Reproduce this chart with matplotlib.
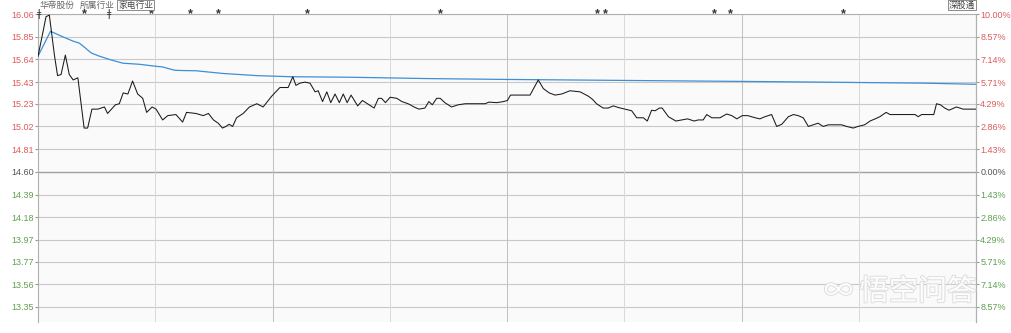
import matplotlib

matplotlib.use("Agg")

import matplotlib.pyplot as plt  # noqa: E402
import matplotlib.patheffects as pe  # noqa: E402

plt.rcParams["font.family"] = ["Liberation Sans", "Noto Sans CJK SC", "DejaVu Sans"]

PREV_CLOSE = 14.60
PRICE_TICKS = [16.06, 15.85, 15.64, 15.43, 15.23, 15.02, 14.81, 14.60,
               14.39, 14.18, 13.97, 13.77, 13.56, 13.35]
PCT_LABELS = ["10.00%", "8.57%", "7.14%", "5.71%", "4.29%", "2.86%", "1.43%", "0.00%",
              "1.43%", "2.86%", "4.29%", "5.71%", "7.14%", "8.57%"]

# intraday price (minute since open, price)
price_min = [0, 1.2, 2.05, 2.9, 4.2, 5.0, 5.9, 7.0, 8.0, 9.0, 10.2, 11.8, 12.7, 13.8,
             15.3, 17.0, 17.8, 19.8, 20.8, 21.8, 23.0, 24.2, 25.5, 26.8, 27.8, 29.2,
             30.2, 31.9, 33.2, 35.3, 37.0, 38.0, 40.4, 42.3, 43.6, 44.9, 46.1, 47.2,
             48.1, 48.9, 49.8, 50.8, 52.5, 54.1, 56.0, 57.6, 59.8, 61.9, 64.0, 65.2,
             66.0, 67.0, 68.3, 69.6, 70.9, 71.7, 72.8, 73.9, 74.9, 76.0, 77.1, 78.1,
             79.1, 80.1, 81.8, 83.0, 84.7, 86.0, 87.1, 87.9, 88.9, 90.1, 91.8, 93.1,
             94.7, 96.5, 97.5, 99.0, 100.0, 100.9, 102.0, 102.9, 104.1, 105.8, 107.5,
             109.3, 112.2, 114.4, 115.4, 117.4, 119.1, 120.1, 120.9, 123.3, 125.9,
             128.0, 129.3, 130.8, 132.3, 134.0, 136.1, 138.7, 140.8, 141.9, 142.9,
             144.6, 145.9, 147.2, 148.5, 150.2, 151.9, 153.2, 154.9, 155.9, 157.0,
             157.9, 159.0, 159.7, 161.3, 163.2, 164.7, 166.2, 167.9, 168.9, 170.2,
             171.1, 172.4, 174.5, 176.2, 177.5, 178.8, 180.2, 181.6, 183.5, 184.7,
             186.0, 187.7, 189.0, 190.3, 192.0, 193.3, 194.5, 195.8, 197.1, 199.6,
             200.9, 202.2, 205.6, 206.9, 208.6, 209.8, 211.5, 212.9, 214.2, 215.4,
             217.0, 218.0, 224.4, 225.2, 226.1, 229.2, 229.9, 230.9, 232.0, 233.1,
             235.0, 236.7, 240.0]
price = [15.67, 15.88, 16.035, 16.05, 15.68, 15.49, 15.50, 15.68, 15.50, 15.45, 15.47,
         15.005, 15.005, 15.18, 15.18, 15.20, 15.14, 15.22, 15.23, 15.33, 15.32, 15.44,
         15.32, 15.28, 15.15, 15.20, 15.18, 15.08, 15.12, 15.13, 15.06, 15.15, 15.14,
         15.12, 15.14, 15.08, 15.05, 15.005, 15.02, 15.04, 15.02, 15.10, 15.14, 15.20,
         15.23, 15.20, 15.30, 15.38, 15.38, 15.48, 15.40, 15.42, 15.43, 15.42, 15.34,
         15.35, 15.25, 15.34, 15.24, 15.32, 15.24, 15.32, 15.24, 15.31, 15.21, 15.26,
         15.22, 15.19, 15.28, 15.28, 15.24, 15.29, 15.28, 15.25, 15.23, 15.195, 15.18,
         15.19, 15.25, 15.22, 15.28, 15.28, 15.24, 15.20, 15.22, 15.23, 15.23, 15.23,
         15.245, 15.24, 15.25, 15.26, 15.31, 15.31, 15.31, 15.45, 15.37, 15.33, 15.31,
         15.32, 15.35, 15.34, 15.30, 15.27, 15.23, 15.19, 15.19, 15.21, 15.195, 15.18,
         15.165, 15.10, 15.10, 15.07, 15.17, 15.165, 15.19, 15.19, 15.11, 15.07, 15.08,
         15.09, 15.07, 15.08, 15.08, 15.13, 15.10, 15.10, 15.135, 15.12, 15.09, 15.12,
         15.12, 15.10, 15.09, 15.11, 15.13, 15.02, 15.04, 15.11, 15.13, 15.12, 15.10,
         15.02, 15.05, 15.02, 15.035, 15.035, 15.02, 15.005, 15.02, 15.035, 15.07,
         15.09, 15.11, 15.15, 15.13, 15.13, 15.11, 15.13, 15.13, 15.23, 15.22, 15.19,
         15.17, 15.20, 15.18, 15.18]

# running average price
avg_min = [0, 3.2, 6.3, 8.9, 10.6, 12.3, 13.6, 15.7, 18.7, 21.7, 25.9, 29.3, 31.9,
           34.9, 37.0, 40.4, 47.3, 51.7, 56.0, 64.5, 79.8, 88.0, 99.0, 119.0, 142.0,
           168.0, 185.0, 200.0, 227.0, 240.0]
avg_price = [15.67, 15.90, 15.85, 15.81, 15.79, 15.74, 15.70, 15.67, 15.635, 15.605,
             15.595, 15.58, 15.57, 15.54, 15.537, 15.535, 15.51, 15.50, 15.49, 15.48,
             15.475, 15.47, 15.463, 15.455, 15.448, 15.44, 15.435, 15.43, 15.42, 15.41]

# event markers along the top edge
star_min = [11.8, 28.9, 39.1, 46.1, 68.8, 102.9, 143.0, 145.1, 173.0, 177.1, 206.0]
bar_min = [0.0, 17.9]

RED = "#e05a5a"
GREEN = "#5fa04e"
GREY = "#555555"

fig = plt.figure(figsize=(10.11, 3.33), dpi=100)
ax = fig.add_axes([38 / 1011, 1 - 322 / 333, 938 / 1011, 308 / 333])
ax.set_facecolor("#fafafa")

ax.set_xlim(0, 240)
ax.set_ylim(13.211, 16.06)

for p in PRICE_TICKS:
    if p == PREV_CLOSE:
        ax.axhline(p, color="#a0a0a0", lw=1.0, zorder=1)
    else:
        ax.axhline(p, color="#c8c8c8", lw=0.8, zorder=1)
for m in range(30, 240, 30):
    ax.axvline(m, color="#c0c0c0" if m % 60 == 0 else "#d8d8d8", lw=0.7, zorder=1)

ax.plot(avg_min, avg_price, color="#3d8fd6", lw=0.9, zorder=3)
ax.plot(price_min, price, color="#1a1a1a", lw=0.75, zorder=4)

for m in star_min:
    ax.text(m, 16.06, "*", ha="center", va="center", fontsize=9, color="#333333",
            fontweight="bold", zorder=5, clip_on=False)
for m in bar_min:
    ax.text(m + 0.2, 16.06, "ǂ", ha="center", va="center", fontsize=7,
            color="#333333", zorder=5, clip_on=False, family="DejaVu Sans")

ax.set_xticks([])
ax.set_yticks(PRICE_TICKS)
ax.set_yticklabels([f"{p:.2f}" for p in PRICE_TICKS])
ax.tick_params(axis="y", length=2, pad=1, labelsize=6.5, color="#999999")
for lbl, p in zip(ax.get_yticklabels(), PRICE_TICKS):
    lbl.set_color(RED if p > PREV_CLOSE else GREEN if p < PREV_CLOSE else GREY)

for side in ("left", "right", "top"):
    ax.spines[side].set_color("#b0b0b0")
    ax.spines[side].set_linewidth(0.8)
ax.spines["bottom"].set_visible(False)

ax2 = ax.twinx()
ax2.set_ylim(ax.get_ylim())
ax2.set_yticks(PRICE_TICKS)
ax2.set_yticklabels(PCT_LABELS)
ax2.tick_params(axis="y", length=2, pad=1, labelsize=6.5, color="#999999")
for lbl, p in zip(ax2.get_yticklabels(), PRICE_TICKS):
    lbl.set_color(RED if p > PREV_CLOSE else GREEN if p < PREV_CLOSE else GREY)
for side in ("left", "top", "bottom"):
    ax2.spines[side].set_visible(False)
ax2.spines["right"].set_color("#b0b0b0")

# header labels
fig.text(40 / 1011, 1 - 5 / 333, "华帝股份", fontsize=6.3, color="#666666", va="center")
fig.text(80 / 1011, 1 - 5 / 333, "所属行业", fontsize=6.3, color="#666666", va="center")
fig.text(118 / 1011, 1 - 5 / 333, "家电行业", fontsize=6.3, color="#444444", va="center",
         bbox=dict(boxstyle="square,pad=0.1", fc="white", ec="#777777", lw=0.6))
fig.text(949 / 1011, 1 - 5 / 333, "深股通", fontsize=6.3, color="#444444", va="center",
         bbox=dict(boxstyle="square,pad=0.1", fc="white", ec="#777777", lw=0.6))

# watermark
fig.text(900 / 1011, 1 - 292 / 333, "∞ 悟空问答", fontsize=21, color="white",
         ha="center", va="center", alpha=0.95,
         path_effects=[pe.withStroke(linewidth=1.5, foreground="#dedede")],
         family=["Noto Sans CJK SC", "DejaVu Sans"])

fig.savefig("out.png", dpi=100, facecolor="white")
